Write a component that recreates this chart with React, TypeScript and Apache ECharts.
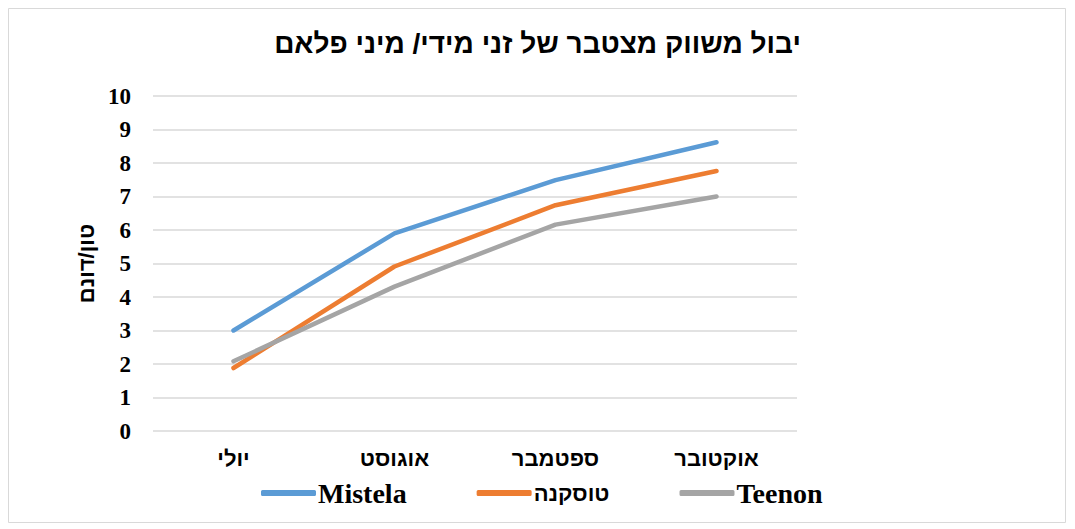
import React, { useEffect, useRef } from "react";
import * as echarts from "echarts";

const categories = ["יולי", "אוגוסט", "ספטמבר", "אוקטובר"];
const mistela = [3.0, 5.9, 7.49, 8.62];
const toscana = [1.88, 4.91, 6.74, 7.76];
const teenon = [2.08, 4.31, 6.16, 7.0];
const seriesNames = ["Mistela", "טוסקנה", "Teenon"];
const colors = ["#5B9BD5", "#ED7D31", "#A5A5A5"];
const titleText = "יבול משווק מצטבר של זני מידי/ מיני פלאם";
const yAxisName = "טון/דונם";

const SERIF = "'Liberation Serif', 'DejaVu Serif', serif";
const HEB = "'Liberation Sans', 'DejaVu Sans', sans-serif";

export default function App() {
  const ref = useRef<HTMLDivElement>(null);
  useEffect(() => {
    if (!ref.current) return;
    const chart = echarts.init(ref.current, undefined, { renderer: "svg" });
    const values = [mistela, toscana, teenon];
    chart.setOption({
      animation: false,
      textStyle: { fontFamily: SERIF },
      graphic: [
        {
          type: "rect",
          shape: { x: 0.5, y: 0.5, width: 1057, height: 514 },
          style: { fill: "none", stroke: "#d9d9d9", lineWidth: 1 },
          silent: true,
        },
      ],
      title: {
        text: titleText,
        left: "center",
        top: 16,
        textStyle: { fontFamily: HEB, fontSize: 28, fontWeight: "bold", color: "#000" },
      },
      legend: {
        left: 248,
        top: 466,
        itemWidth: 55,
        itemHeight: 6,
        itemGap: 70,
        icon: "roundRect",
        data: seriesNames.map((n, i) => ({
          name: n,
          textStyle: {
            fontFamily: i === 1 ? HEB : SERIF,
            fontSize: i === 1 ? 22 : 28,
            fontWeight: "bold",
            color: "#000",
          },
        })),
        textStyle: { fontFamily: SERIF, fontSize: 28, fontWeight: "bold", color: "#000", padding: [0, 0, 0, -3] },
      },
      grid: { left: 145, right: 270, top: 88, bottom: 93 },
      xAxis: {
        type: "category",
        data: categories,
        boundaryGap: true,
        axisLine: { show: false },
        axisTick: { show: false },
        axisLabel: { fontFamily: HEB, fontSize: 22, fontWeight: "bold", color: "#000", margin: 16 },
      },
      yAxis: {
        type: "value",
        min: 0,
        max: 10,
        interval: 1,
        name: yAxisName,
        nameLocation: "middle",
        nameRotate: 90,
        nameGap: 42,
        nameTextStyle: { fontFamily: HEB, fontSize: 22, fontWeight: "bold", color: "#000" },
        axisLine: { show: false },
        axisTick: { show: false },
        splitLine: { lineStyle: { color: "#d9d9d9", width: 1.5 } },
        axisLabel: { fontFamily: SERIF, fontSize: 23, fontWeight: "bold", color: "#000", margin: 22 },
      },
      series: seriesNames.map((name, i) => ({
        name,
        type: "line",
        data: values[i],
        symbol: "none",
        lineStyle: { color: colors[i], width: 4.5, cap: "round", join: "round" },
        itemStyle: { color: colors[i] },
      })),
    });
    return () => chart.dispose();
  }, []);
  return <div ref={ref} style={{ width: 1059, height: 516 }} />;
}
